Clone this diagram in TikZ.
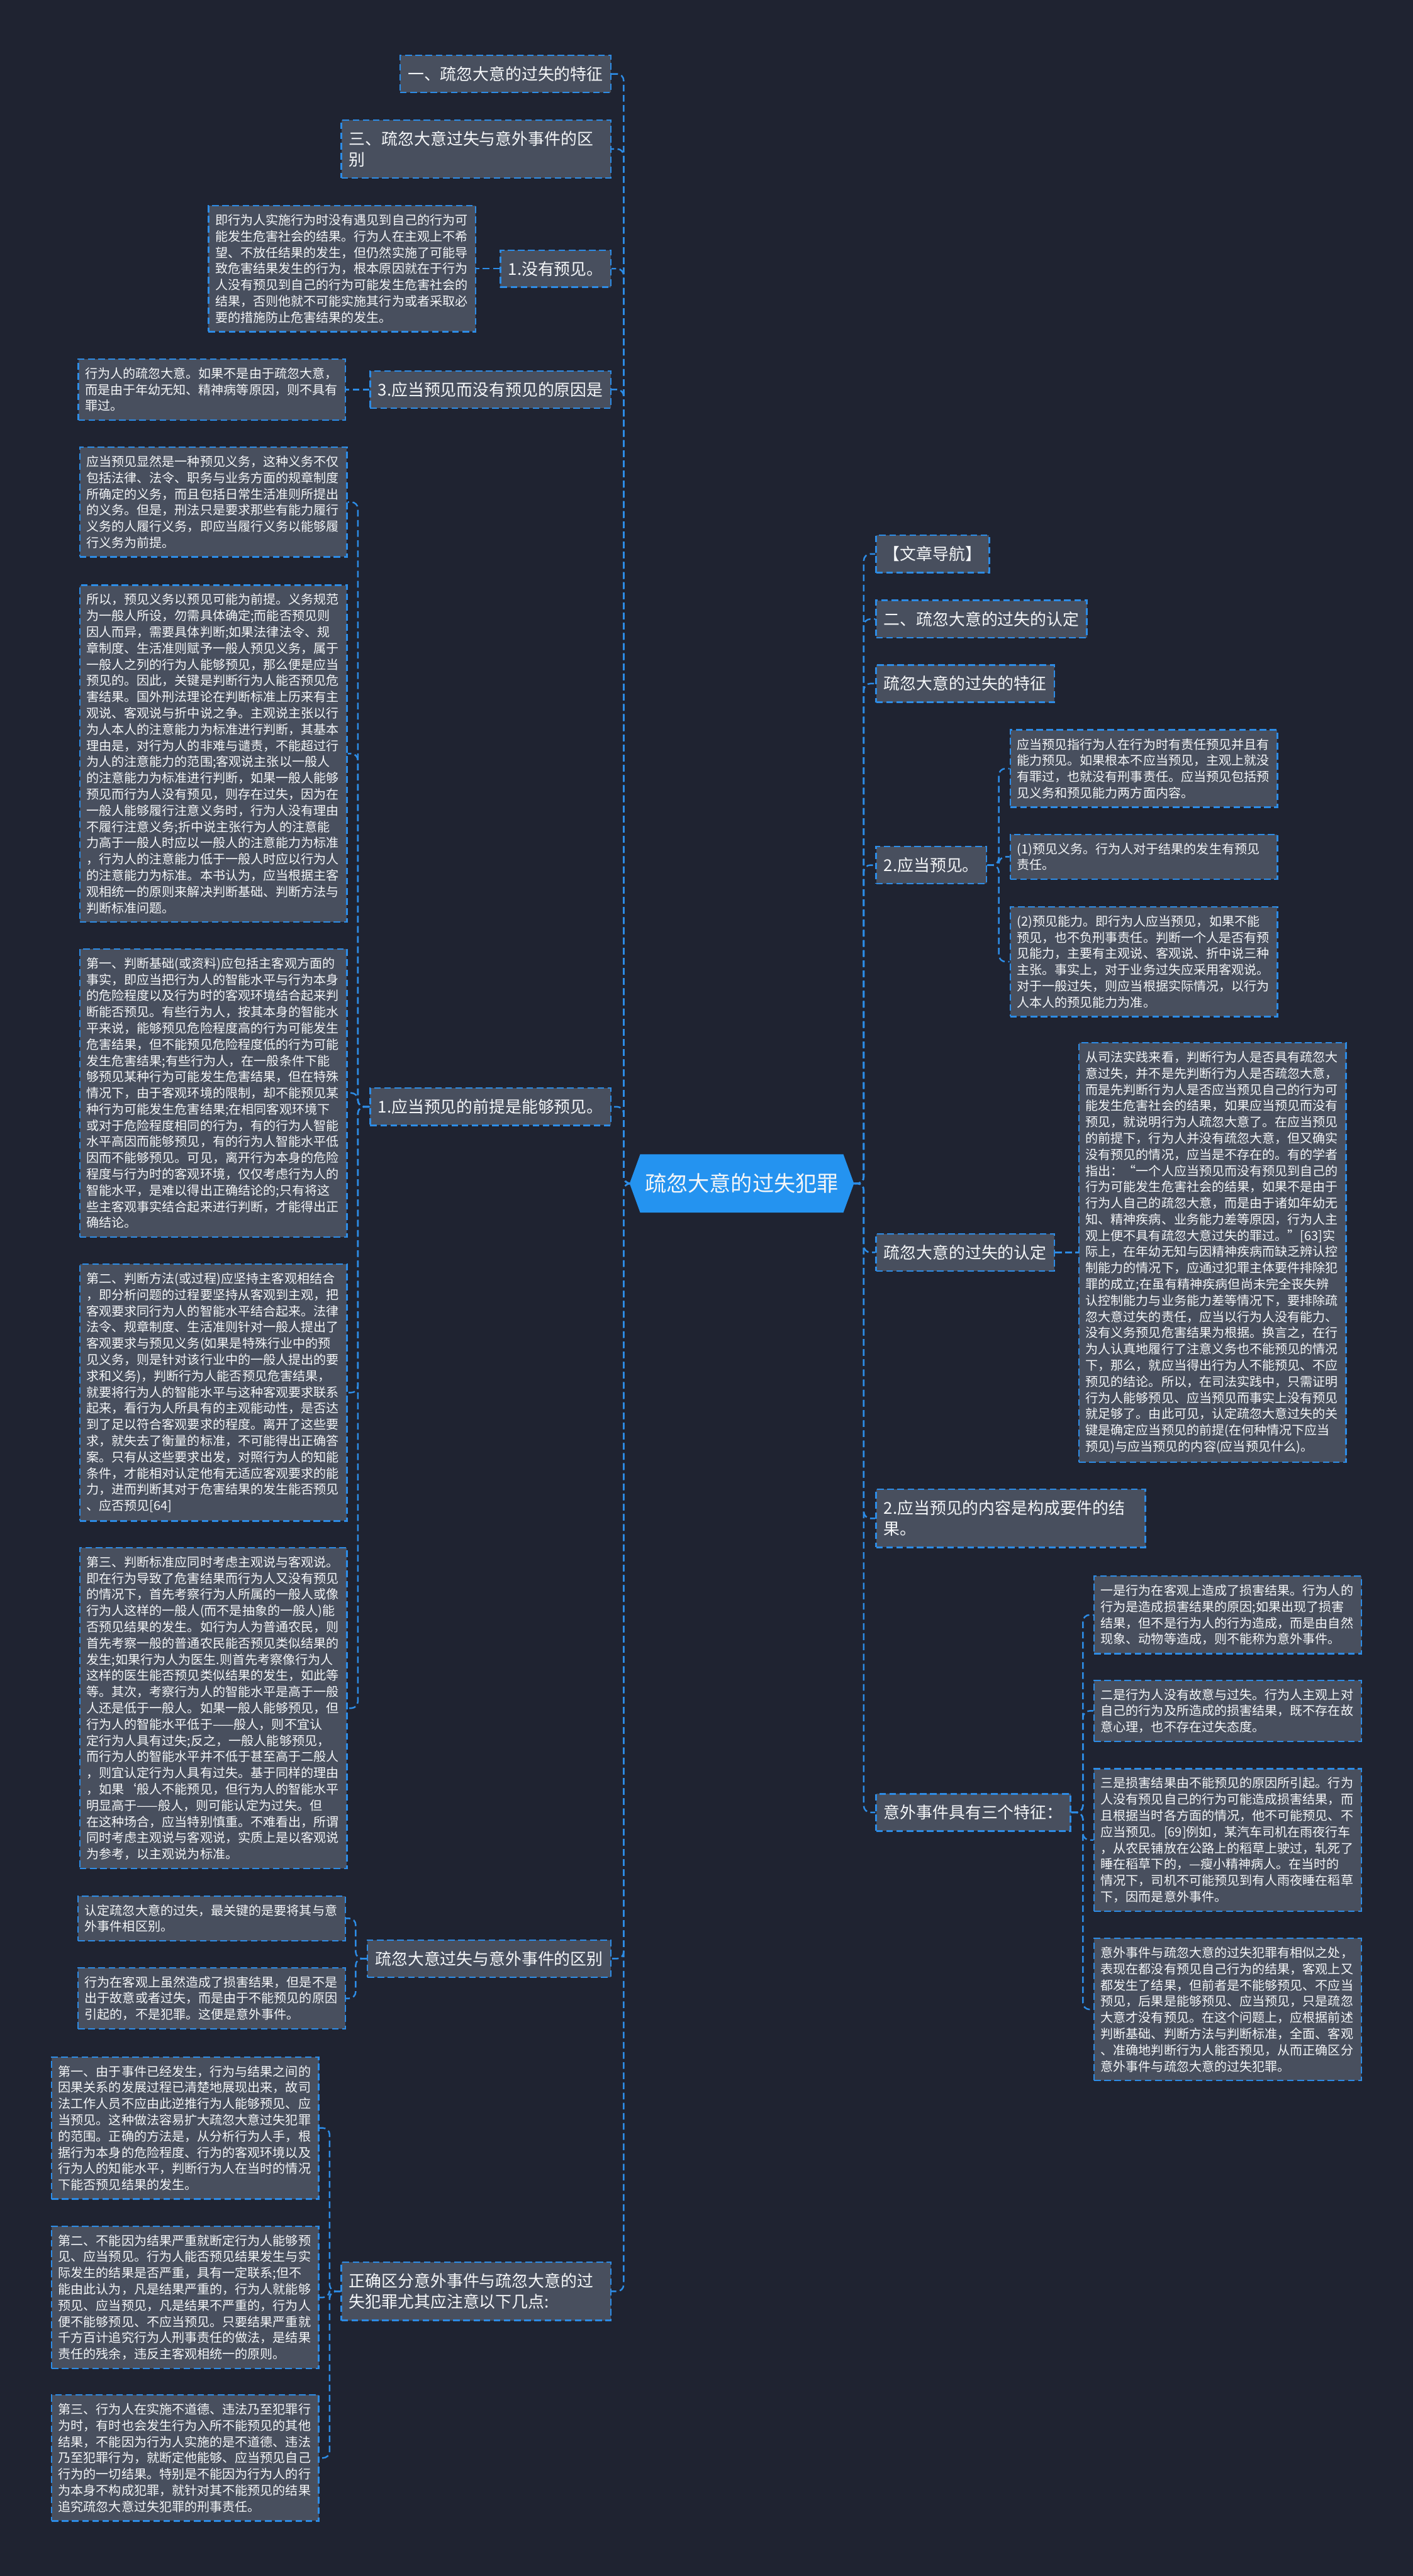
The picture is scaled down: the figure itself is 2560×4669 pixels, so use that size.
\documentclass[tikz,border=0pt]{standalone}
\usepackage{fontspec}
\setmainfont{Noto Sans CJK SC}
\usepackage{tikz}
\usetikzlibrary{positioning,shapes.symbols}
\definecolor{canvas}{HTML}{1F2331}
\definecolor{boxfill}{HTML}{484F5E}
\definecolor{linkblue}{HTML}{2D8CE6}
\definecolor{rootblue}{HTML}{2493F0}
\definecolor{paper}{HTML}{F4F6F8}
\tikzset{
  every node/.style={text=paper},
  boxbase/.style={draw=linkblue,fill=boxfill,line width=0.7pt,dash pattern=on 3pt off 1.6pt},
  topic/.style={signal,signal to=west and east,signal pointer angle=140,fill=rootblue,draw=rootblue,minimum height=26pt,inner xsep=2pt,font=\fontsize{9.75}{12}\selectfont},
  branch/.style={boxbase,inner xsep=3.5pt,inner ysep=5pt,font=\fontsize{7.37}{9.4}\selectfont},
  widebranch/.style={branch,text width=115pt,align=left},
  leaf/.style={boxbase,text width=115pt,align=left,inner xsep=3pt,inner ysep=3.8pt,font=\fontsize{5.72}{7.35}\selectfont},
  link/.style={draw=linkblue,line width=0.7pt,dash pattern=on 3pt off 1.6pt,rounded corners=3pt}
}

\begin{document}
\begin{tikzpicture}[x=0.25pt,y=-0.25pt]
  \fill[canvas] (0,0) rectangle (2560,4669);
  \useasboundingbox (0,0) rectangle (2560,4669);

  \node[topic] (root) at (1344,2145) {疏忽大意的过失犯罪};
  \coordinate (lspine) at (1130,2145);
  \coordinate (rspine) at (1565,2145);

  % left branches
  \node[branch,anchor=east] (feature) at (1108,134) {一、疏忽大意的过失的特征};
  \node[widebranch,anchor=east] (distinguish) at (1108,270) {三、疏忽大意过失与意外事件的区\\别};
  \node[branch,anchor=east] (noforesee) at (1108,487) {1.没有预见。};
  \node[branch,anchor=east] (reason) at (1108,706) {3.应当预见而没有预见的原因是};
  \node[branch,anchor=east] (premise) at (1108,2006) {1.应当预见的前提是能够预见。};
  \node[branch,anchor=east] (difference) at (1108,3550) {疏忽大意过失与意外事件的区别};
  \node[widebranch,anchor=east] (caution) at (1108,4153) {正确区分意外事件与疏忽大意的过\\失犯罪尤其应注意以下几点:};

  \node[leaf,left=10.5pt of noforesee] (noforeseeText) {即行为人实施行为时没有遇见到自己的行为可\\
能发生危害社会的结果。行为人在主观上不希\\
望、不放任结果的发生，但仍然实施了可能导\\
致危害结果发生的行为，根本原因就在于行为\\
人没有预见到自己的行为可能发生危害社会的\\
结果，否则他就不可能实施其行为或者采取必\\
要的措施防止危害结果的发生。};

  \node[leaf,left=10.5pt of reason] (reasonText) {行为人的疏忽大意。如果不是由于疏忽大意，\\
而是由于年幼无知、精神病等原因，则不具有\\
罪过。};

  \node[leaf,anchor=east] (premiseA) at (630,910) {应当预见显然是一种预见义务，这种义务不仅\\
包括法律、法令、职务与业务方面的规章制度\\
所确定的义务，而且包括日常生活准则所提出\\
的义务。但是，刑法只是要求那些有能力履行\\
义务的人履行义务，即应当履行义务以能够履\\
行义务为前提。};

  \node[leaf,anchor=east] (premiseB) at (630,1366) {所以，预见义务以预见可能为前提。义务规范\\
为一般人所设，勿需具体确定;而能否预见则\\
因人而异，需要具体判断;如果法律法令、规\\
章制度、生活准则赋予一般人预见义务，属于\\
一般人之列的行为人能够预见，那么便是应当\\
预见的。因此，关键是判断行为人能否预见危\\
害结果。国外刑法理论在判断标准上历来有主\\
观说、客观说与折中说之争。主观说主张以行\\
为人本人的注意能力为标准进行判断，其基本\\
理由是，对行为人的非难与谴责，不能超过行\\
为人的注意能力的范围;客观说主张以一般人\\
的注意能力为标准进行判断，如果一般人能够\\
预见而行为人没有预见，则存在过失，因为在\\
一般人能够履行注意义务时，行为人没有理由\\
不履行注意义务;折中说主张行为人的注意能\\
力高于一般人时应以一般人的注意能力为标准\\
，行为人的注意能力低于一般人时应以行为人\\
的注意能力为标准。本书认为，应当根据主客\\
观相统一的原则来解决判断基础、判断方法与\\
判断标准问题。};

  \node[leaf,anchor=east] (premiseC) at (630,1981) {第一、判断基础(或资料)应包括主客观方面的\\
事实，即应当把行为人的智能水平与行为本身\\
的危险程度以及行为时的客观环境结合起来判\\
断能否预见。有些行为人，按其本身的智能水\\
平来说，能够预见危险程度高的行为可能发生\\
危害结果，但不能预见危险程度低的行为可能\\
发生危害结果;有些行为人，在一般条件下能\\
够预见某种行为可能发生危害结果，但在特殊\\
情况下，由于客观环境的限制，却不能预见某\\
种行为可能发生危害结果;在相同客观环境下\\
或对于危险程度相同的行为，有的行为人智能\\
水平高因而能够预见，有的行为人智能水平低\\
因而不能够预见。可见，离开行为本身的危险\\
程度与行为时的客观环境，仅仅考虑行为人的\\
智能水平，是难以得出正确结论的;只有将这\\
些主客观事实结合起来进行判断，才能得出正\\
确结论。};

  \node[leaf,anchor=east] (premiseD) at (630,2524) {第二、判断方法(或过程)应坚持主客观相结合\\
，即分析问题的过程要坚持从客观到主观，把\\
客观要求同行为人的智能水平结合起来。法律\\
法令、规章制度、生活准则针对一般人提出了\\
客观要求与预见义务(如果是特殊行业中的预\\
见义务，则是针对该行业中的一般人提出的要\\
求和义务)，判断行为人能否预见危害结果，\\
就要将行为人的智能水平与这种客观要求联系\\
起来，看行为人所具有的主观能动性，是否达\\
到了足以符合客观要求的程度。离开了这些要\\
求，就失去了衡量的标准，不可能得出正确答\\
案。只有从这些要求出发，对照行为人的知能\\
条件，才能相对认定他有无适应客观要求的能\\
力，进而判断其对于危害结果的发生能否预见\\
、应否预见[64]};

  \node[leaf,anchor=east] (premiseE) at (630,3096) {第三、判断标准应同时考虑主观说与客观说。\\
即在行为导致了危害结果而行为人又没有预见\\
的情况下，首先考察行为人所属的一般人或像\\
行为人这样的一般人(而不是抽象的一般人)能\\
否预见结果的发生。如行为人为普通农民，则\\
首先考察一般的普通农民能否预见类似结果的\\
发生;如果行为人为医生.则首先考察像行为人\\
这样的医生能否预见类似结果的发生，如此等\\
等。其次，考察行为人的智能水平是高于一般\\
人还是低于一般人。如果一般人能够预见，但\\
行为人的智能水平低于——般人，则不宜认\\
定行为人具有过失;反之，一般人能够预见，\\
而行为人的智能水平并不低于甚至高于二般人\\
，则宜认定行为人具有过失。基于同样的理由\\
，如果‘般人不能预见，但行为人的智能水平\\
明显高于——般人，则可能认定为过失。但\\
在这种场合，应当特别慎重。不难看出，所谓\\
同时考虑主观说与客观说，实质上是以客观说\\
为参考，以主观说为标准。};

  \node[leaf,anchor=east] (differenceA) at (627,3477) {认定疏忽大意的过失，最关键的是要将其与意\\
外事件相区别。};
  \node[leaf,anchor=east] (differenceB) at (627,3622) {行为在客观上虽然造成了损害结果，但是不是\\
出于故意或者过失，而是由于不能预见的原因\\
引起的，不是犯罪。这便是意外事件。};

  \node[leaf,anchor=east] (cautionA) at (579,3857) {第一、由于事件已经发生，行为与结果之间的\\
因果关系的发展过程已清楚地展现出来，故司\\
法工作人员不应由此逆推行为人能够预见、应\\
当预见。这种做法容易扩大疏忽大意过失犯罪\\
的范围。正确的方法是，从分析行为人手，根\\
据行为本身的危险程度、行为的客观环境以及\\
行为人的知能水平，判断行为人在当时的情况\\
下能否预见结果的发生。};
  \node[leaf,anchor=east] (cautionB) at (579,4164) {第二、不能因为结果严重就断定行为人能够预\\
见、应当预见。行为人能否预见结果发生与实\\
际发生的结果是否严重，具有一定联系;但不\\
能由此认为，凡是结果严重的，行为人就能够\\
预见、应当预见，凡是结果不严重的，行为人\\
便不能够预见、不应当预见。只要结果严重就\\
千方百计追究行为人刑事责任的做法，是结果\\
责任的残余，违反主客观相统一的原则。};
  \node[leaf,anchor=east] (cautionC) at (579,4455) {第三、行为人在实施不道德、违法乃至犯罪行\\
为时，有时也会发生行为入所不能预见的其他\\
结果，不能因为行为人实施的是不道德、违法\\
乃至犯罪行为，就断定他能够、应当预见自己\\
行为的一切结果。特别是不能因为行为人的行\\
为本身不构成犯罪，就针对其不能预见的结果\\
追究疏忽大意过失犯罪的刑事责任。};

  % right branches
  \node[branch,anchor=west] (nav) at (1586,1004) {【文章导航】};
  \node[branch,anchor=west] (identify) at (1586,1122) {二、疏忽大意的过失的认定};
  \node[branch,anchor=west] (trait) at (1586,1239) {疏忽大意的过失的特征};
  \node[branch,anchor=west] (foresee) at (1586,1568) {2.应当预见。};
  \node[branch,anchor=west] (judge) at (1586,2270) {疏忽大意的过失的认定};
  \node[widebranch,anchor=west] (content) at (1586,2752) {2.应当预见的内容是构成要件的结\\果。};
  \node[branch,anchor=west] (accident) at (1586,3285) {意外事件具有三个特征：};

  \node[leaf,anchor=west] (foreseeA) at (1829,1393) {应当预见指行为人在行为时有责任预见并且有\\
能力预见。如果根本不应当预见，主观上就没\\
有罪过，也就没有刑事责任。应当预见包括预\\
见义务和预见能力两方面内容。};
  \node[leaf,anchor=west] (foreseeB) at (1829,1553) {(1)预见义务。行为人对于结果的发生有预见\\
责任。};
  \node[leaf,anchor=west] (foreseeC) at (1829,1743) {(2)预见能力。即行为人应当预见，如果不能\\
预见，也不负刑事责任。判断一个人是否有预\\
见能力，主要有主观说、客观说、折中说三种\\
主张。事实上，对于业务过失应采用客观说。\\
对于一般过失，则应当根据实际情况，以行为\\
人本人的预见能力为准。};

  \node[leaf,right=10.5pt of judge] (judgeText) {从司法实践来看，判断行为人是否具有疏忽大\\
意过失，并不是先判断行为人是否疏忽大意，\\
而是先判断行为人是否应当预见自己的行为可\\
能发生危害社会的结果，如果应当预见而没有\\
预见，就说明行为人疏忽大意了。在应当预见\\
的前提下，行为人并没有疏忽大意，但又确实\\
没有预见的情况，应当是不存在的。有的学者\\
指出：“一个人应当预见而没有预见到自己的\\
行为可能发生危害社会的结果，如果不是由于\\
行为人自己的疏忽大意，而是由于诸如年幼无\\
知、精神疾病、业务能力差等原因，行为人主\\
观上便不具有疏忽大意过失的罪过。”[63]实\\
际上，在年幼无知与因精神疾病而缺乏辨认控\\
制能力的情况下，应通过犯罪主体要件排除犯\\
罪的成立;在虽有精神疾病但尚未完全丧失辨\\
认控制能力与业务能力差等情况下，要排除疏\\
忽大意过失的责任，应当以行为人没有能力、\\
没有义务预见危害结果为根据。换言之，在行\\
为人认真地履行了注意义务也不能预见的情况\\
下，那么，就应当得出行为人不能预见、不应\\
预见的结论。所以，在司法实践中，只需证明\\
行为人能够预见、应当预见而事实上没有预见\\
就足够了。由此可见，认定疏忽大意过失的关\\
键是确定应当预见的前提(在何种情况下应当\\
预见)与应当预见的内容(应当预见什么)。};

  \node[leaf,anchor=west] (accidentA) at (1981,2927) {一是行为在客观上造成了损害结果。行为人的\\
行为是造成损害结果的原因;如果出现了损害\\
结果，但不是行为人的行为造成，而是由自然\\
现象、动物等造成，则不能称为意外事件。};
  \node[leaf,anchor=west] (accidentB) at (1981,3101) {二是行为人没有故意与过失。行为人主观上对\\
自己的行为及所造成的损害结果，既不存在故\\
意心理，也不存在过失态度。};
  \node[leaf,anchor=west] (accidentC) at (1981,3335) {三是损害结果由不能预见的原因所引起。行为\\
人没有预见自己的行为可能造成损害结果，而\\
且根据当时各方面的情况，他不可能预见、不\\
应当预见。[69]例如，某汽车司机在雨夜行车\\
，从农民铺放在公路上的稻草上驶过，轧死了\\
睡在稻草下的，—瘦小精神病人。在当时的\\
情况下，司机不可能预见到有人雨夜睡在稻草\\
下，因而是意外事件。};
  \node[leaf,anchor=west] (accidentD) at (1981,3642) {意外事件与疏忽大意的过失犯罪有相似之处，\\
表现在都没有预见自己行为的结果，客观上又\\
都发生了结果，但前者是不能够预见、不应当\\
预见，后果是能够预见、应当预见，只是疏忽\\
大意才没有预见。在这个问题上，应根据前述\\
判断基础、判断方法与判断标准，全面、客观\\
、准确地判断行为人能否预见，从而正确区分\\
意外事件与疏忽大意的过失犯罪。};

  % connectors
  \foreach \n in {feature,distinguish,noforesee,reason,premise,difference,caution}
    \draw[link] (root.west) -- (lspine) |- (\n.east);
  \foreach \n in {nav,identify,trait,foresee,judge,content,accident}
    \draw[link] (root.east) -- (rspine) |- (\n.west);

  \draw[link] (noforesee.west) -- (noforeseeText.east);
  \draw[link] (reason.west) -- (reasonText.east);
  \foreach \n in {premiseA,premiseB,premiseC,premiseD,premiseE}
    \draw[link] (premise.west) -- ++(-21,0) |- (\n.east);
  \foreach \n in {differenceA,differenceB}
    \draw[link] (difference.west) -- ++(-20,0) |- (\n.east);
  \foreach \n in {cautionA,cautionB,cautionC}
    \draw[link] (caution.west) -- ++(-20,0) |- (\n.east);

  \foreach \n in {foreseeA,foreseeB,foreseeC}
    \draw[link] (foresee.east) -- ++(21,0) |- (\n.west);
  \draw[link] (judge.east) -- (judgeText.west);
  \foreach \n in {accidentA,accidentB,accidentC,accidentD}
    \draw[link] (accident.east) -- ++(21,0) |- (\n.west);
\end{tikzpicture}
\end{document}
